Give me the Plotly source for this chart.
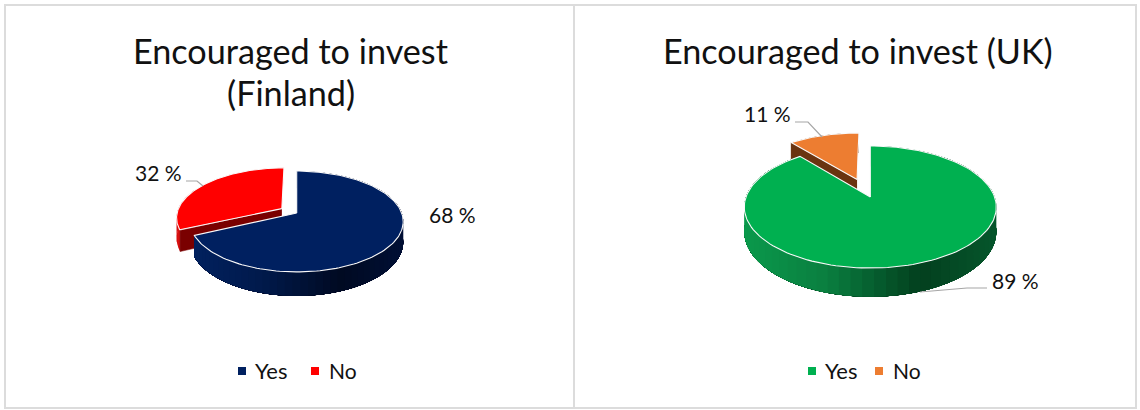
import numpy as np
import plotly.graph_objects as go

# Chart values
categories = ["Yes", "No"]
finland_values = [68, 32]
uk_values = [89, 11]
finland_title = ["Encouraged to invest", "(Finland)"]
uk_title = "Encouraged to invest (UK)"

FONT = "Lato, Carlito, Calibri, sans-serif"
TEXT = "#111111"
LEADER = "#a6a6a6"
BORDER = "#dcdcdc"


def hex_rgb(c):
    return np.array([int(c[i:i + 2], 16) for i in (1, 3, 5)], float)


def ramp(stops, t):
    """Colour along a list of (position, hex) stops."""
    pos = [s[0] for s in stops]
    rgb = np.array([hex_rgb(s[1]) for s in stops])
    vals = [np.interp(t, pos, rgb[:, k]) for k in range(3)]
    return "rgb(%d,%d,%d)" % tuple(vals)


class Pie3D:
    """Tilted pie with a perspective divide on the ground plane."""

    def __init__(self, cx, cy, rx, ry, persp, depth):
        self.cx, self.cy, self.rx, self.ry = cx, cy, rx, ry
        self.p, self.depth = persp, depth

    def project(self, u, v, drop=0.0):
        s = 1.0 / (1.0 - self.p * v)
        return self.cx + self.rx * u * s, self.cy + self.ry * v * s + self.depth * drop * s

    def rim(self, a0, a1, shift=(0.0, 0.0), drop=0.0, n=160):
        th = np.radians(np.linspace(a0, a1, n))
        return self.project(np.sin(th) + shift[0], -np.cos(th) + shift[1], drop)

    def apex(self, shift=(0.0, 0.0), drop=0.0):
        x, y = self.project(np.array([shift[0]]), np.array([shift[1]]), drop)
        return x[0], y[0]


def poly(fig, x, y, fill, line=None, width=0.0):
    fig.add_trace(go.Scatter(
        x=list(x), y=list(y), mode="lines", fill="toself", fillcolor=fill,
        line=dict(color=line or fill, width=width), hoverinfo="skip", showlegend=False,
    ))


def wedge_side(fig, pie, a0, a1, shift, stops, x_lo, x_hi, strips=70):
    """Outer wall of a wedge: overlapping layers, each one shorter, carry a horizontal gradient."""
    edges = np.linspace(a0, a1, strips + 1)
    for b0 in edges[:-1]:
        xt, yt = pie.rim(b0, a1, shift, 0.0, 120)
        xb, yb = pie.rim(a1, b0, shift, 1.0, 120)
        t = (float(xt[0]) - x_lo) / (x_hi - x_lo)
        poly(fig, np.r_[xt, xb], np.r_[yt, yb], ramp(stops, t))


def cut_face(fig, pie, angle, shift, colour):
    """Flat radial wall from the apex out to the rim at the given angle."""
    ax, ay = pie.apex(shift)
    bx, by = pie.apex(shift, 1.0)
    rx, ry = pie.rim(angle, angle, shift, 0.0, 1)
    qx, qy = pie.rim(angle, angle, shift, 1.0, 1)
    poly(fig, [ax, rx[0], qx[0], bx], [ay, ry[0], qy[0], by], colour, colour, 0.5)


def top_face(fig, pie, a0, a1, shift, colour, edge="#fafafa"):
    x, y = pie.rim(a0, a1, shift)
    ax, ay = pie.apex(shift)
    poly(fig, np.r_[ax, x, ax], np.r_[ay, y, ay], colour, edge, 1.1)


def draw_pie(fig, pie, values, explode, main_top, main_stops, cut_top, cut_wall, cut_stops):
    total = sum(values)
    split = 360.0 * values[0] / total
    mid = np.radians((split + 360.0) / 2)
    shift = (np.sin(mid) * explode, -np.cos(mid) * explode)

    # exploded slice first, the large slice paints over its lower walls;
    # only the leading part of its outer wall can face the viewer
    xs, _ = pie.rim(split, 360, shift)
    wedge_side(fig, pie, split, min(split + 50, 360), shift, cut_stops, xs.min(), xs.max(), 8)
    cut_face(fig, pie, split, shift, cut_wall)
    top_face(fig, pie, split, 360, shift, cut_top)

    xm, _ = pie.rim(0, split)
    wedge_side(fig, pie, 0, split, (0, 0), main_stops, xm.min(), xm.max())
    top_face(fig, pie, 0, split, (0, 0), main_top)


COL_FI = {"Yes": "#002060", "No": "#ff0000"}
COL_UK = {"Yes": "#00b050", "No": "#ed7d31"}

fig = go.Figure()

draw_pie(
    fig, Pie3D(296.7, 213, 105, 49, 0.168, 20), finland_values, 0.17,
    COL_FI["Yes"],
    [(0, "#02215f"), (0.35, "#011a4b"), (0.72, "#000a22"), (1, "#001035")],
    COL_FI["No"], "#7a0000",
    [(0, "#d81010"), (1, "#d81010")],
)
draw_pie(
    fig, Pie3D(870.3, 197, 124.3, 59.4, 0.164, 24), uk_values, 0.33,
    COL_UK["Yes"],
    [(0, "#0a9a4c"), (0.35, "#0a7f40"), (0.72, "#03401f"), (1, "#06562c")],
    COL_UK["No"], "#6a3410",
    [(0, "#6a3410"), (1, "#6a3410")],
)

# Leader lines from the outside labels to their slices
leaders = [
    ([186, 197, 203], [181, 181, 186]),
    ([795, 808, 822], [122, 122, 137]),
    ([987, 967, 920], [288, 288, 292]),
]
for lx, ly in leaders:
    fig.add_trace(go.Scatter(x=lx, y=ly, mode="lines", line=dict(color=LEADER, width=1.2),
                             hoverinfo="skip", showlegend=False))

# Legend swatches
swatches = [(242, COL_FI["Yes"]), (315, COL_FI["No"]), (812, COL_UK["Yes"]), (879, COL_UK["No"])]
for sx, colour in swatches:
    fig.add_trace(go.Scatter(x=[sx], y=[371], mode="markers",
                             marker=dict(symbol="square", size=8, color=colour),
                             hoverinfo="skip", showlegend=False))


def label(x, y, text, size=21, anchor="center"):
    return dict(x=x, y=y, text=text, showarrow=False, xanchor=anchor, yanchor="middle",
                font=dict(family=FONT, size=size, color=TEXT))


annotations = [
    label(290.5, 50, finland_title[0], 34.2),
    label(290.5, 92.5, finland_title[1], 34.2),
    label(857.5, 50, uk_title, 34.2),
    label(158, 172.5, f"{finland_values[1]} %"),
    label(452, 214.5, f"{finland_values[0]} %"),
    label(767, 113.5, f"{uk_values[1]} %"),
    label(1015, 280.5, f"{uk_values[0]} %"),
    label(252.5, 370, categories[0], 22, "left"),
    label(326.5, 370, categories[1], 21, "left"),
    label(822.5, 370, categories[0], 22, "left"),
    label(890.5, 370, categories[1], 21, "left"),
]

# Panel frames
frames = [
    dict(type="rect", x0=5, y0=5, x1=574, y1=408),
    dict(type="rect", x0=574, y0=5, x1=1136, y1=408),
]
shapes = [dict(**f, line=dict(color=BORDER, width=2), layer="below") for f in frames]

fig.update_layout(
    width=1140, height=410, margin=dict(l=0, r=0, t=0, b=0), autosize=False,
    paper_bgcolor="white", plot_bgcolor="white", showlegend=False,
    xaxis=dict(range=[0, 1140], visible=False, fixedrange=True),
    yaxis=dict(range=[410, 0], visible=False, fixedrange=True),
    annotations=annotations, shapes=shapes,
)

fig.write_html("out.html", config=dict(displayModeBar=False))
